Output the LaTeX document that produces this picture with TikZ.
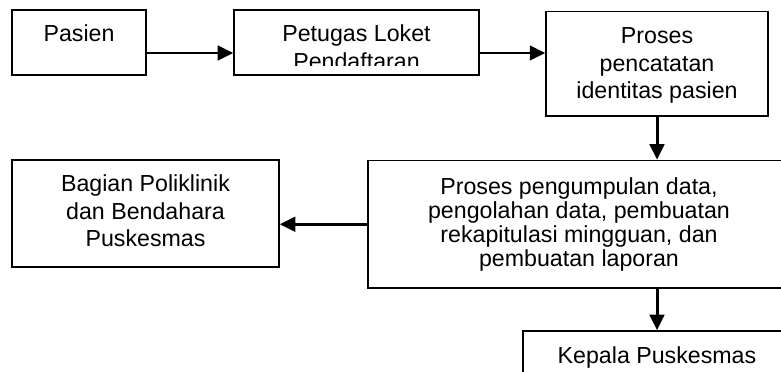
\documentclass[tikz,border=0pt]{standalone}
\usepackage{fontspec}
\setmainfont{Liberation Sans}
\usetikzlibrary{arrows.meta}

\begin{document}
\begin{tikzpicture}[x=1cm,y=1cm,>={Triangle[length=8.8pt,width=8.2pt]},
  box/.style={draw,line width=0.9pt,inner sep=0pt,font=\fontsize{13.2pt}{15.6pt}\selectfont},
  link/.style={->,line width=1.7pt}]
\clip (0,0) rectangle (15.62,7.42);

% Top row: patient to registration to recording
\node[box] (pasien) at (1.58,6.57)
  {\parbox[c][1.30cm][t]{2.68cm}{\centering\vspace*{0.30cm}Pasien}};
\node[box] (loket) at (7.13,6.57)
  {\parbox[c][1.30cm][t]{4.90cm}{\centering\vspace*{0.30cm}Petugas Loket\\Pendaftaran}};
\fill[white] ([xshift=0.03cm,yshift=0.03cm]loket.south west) rectangle ([xshift=-0.03cm,yshift=0.20cm]loket.south east);
\node[box] (pencatatan) at (13.14,6.145)
  {\parbox[c][2.09cm][t]{4.44cm}{\centering\vspace*{0.33cm}Proses\\pencatatan\\identitas pasien}};

\draw[link] ([yshift=-0.21cm]pasien.east) -- ([yshift=-0.21cm]loket.west);
\draw[link] ([yshift=-0.21cm]loket.east) -- ([yshift=0.215cm]pencatatan.west);

% Middle row: data processing and recipients
\node[box,font=\fontsize{13.2pt}{13.6pt}\selectfont] (rekap) at (11.58,2.935)
  {\parbox[c][2.55cm][t]{8.44cm}{\centering\vspace*{0.35cm}Proses pengumpulan data,\\pengolahan data, pembuatan\\rekapitulasi mingguan, dan\\pembuatan laporan}};
\node[box] (poli) at (2.91,3.15)
  {\parbox[c][2.14cm][t]{5.34cm}{\centering\vspace*{0.30cm}Bagian Poliklinik\\dan Bendahara\\Puskesmas}};

\draw[link] (pencatatan.south) -- (pencatatan.south |- rekap.north);
\draw[link] (rekap.west) -- (rekap.west -| poli.east);

% Bottom: head of the health centre
\node[box] (kepala) at (13.14,0.11)
  {\parbox[c][1.38cm][t]{5.36cm}{\centering\vspace*{0.32cm}Kepala Puskesmas}};

\draw[link] (kepala.north |- rekap.south) -- (kepala.north);
\end{tikzpicture}
\end{document}
